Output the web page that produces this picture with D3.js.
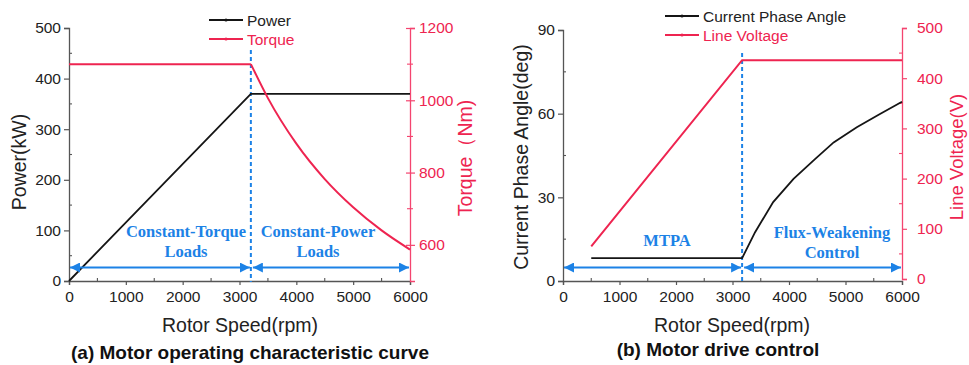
<!DOCTYPE html>
<html>
<head>
<meta charset="utf-8">
<script src="https://cdn.jsdelivr.net/npm/d3@7"></script>
<style>
  html, body { margin: 0; padding: 0; background: #fff; }
  svg { display: block; font-family: "Liberation Sans", Arial, sans-serif; }
</style>
</head>
<body>
<svg id="chart" width="969" height="365"></svg>
<script>
// ---- Panel (a): motor operating characteristic ----
const speedA   = [0, 3200, 6000];
const powerA   = [0, 370, 370];                       // kW
const torqueSpd = [0, 3200, 3500, 4000, 4500, 5000, 5500, 6000];
const torqueA  = [1100, 1100, 1006, 880, 782, 704, 640, 587]; // Nm
const baseSpeedA = 3200;

// ---- Panel (b): motor drive control ----
const angleSpd = [500, 3170, 3400, 3720, 4080, 4460, 4790, 5200, 5610, 6000];
const angleB   = [8.2, 8.2, 17.5, 28.3, 36.6, 43.7, 49.7, 55.1, 59.9, 64.3]; // deg
const voltSpd  = [500, 3170, 6000];
const voltB    = [65, 436, 436];                       // V
const baseSpeedB = 3170;

// tick labels
const speedTicks  = [0, 1000, 2000, 3000, 4000, 5000, 6000];
const powerTicks  = [0, 100, 200, 300, 400, 500];
const torqueTicks = [600, 800, 1000, 1200];
const angleTicks  = [0, 30, 60, 90];
const voltTicks   = [0, 100, 200, 300, 400, 500];

const BLACK = "#151515", RED = "#ee2450", PINK = "#f4446f", BLUE = "#1c82e6", AX = "#555";
const SANS = "'Liberation Sans', Arial, sans-serif";
const SERIF = "'Liberation Serif', 'Times New Roman', serif";
const TITLE = 19.5, CAPTION = 19, TICK = 15.5;
const fmt = d3.format("d");

const svg = d3.select("#chart");

function drawAxis(g, axis, color, labelColor) {
  g.call(axis.tickFormat(fmt));
  g.attr("font-family", SANS);
  g.select(".domain").attr("stroke", color).attr("stroke-width", 1.3);
  g.selectAll(".tick line").attr("stroke", color).attr("stroke-width", 1.2);
  g.selectAll(".tick text").attr("fill", labelColor).attr("font-size", TICK);
}
function minorTicks(g, scale, values, orient, color, len, both) {
  values.forEach(v => {
    const p = scale(v);
    const l = g.append("line").attr("stroke", color).attr("stroke-width", 1.1);
    if (orient === "left") l.attr("x1", 0).attr("x2", len).attr("y1", p).attr("y2", p);
    else if (orient === "right") l.attr("x1", both ? len : 0).attr("x2", -len).attr("y1", p).attr("y2", p);
    else l.attr("y1", 0).attr("y2", -len).attr("x1", p).attr("x2", p);
  });
}
svg.append("defs").append("marker")
  .attr("id", "arr").attr("viewBox", "0 0 10 10").attr("refX", 10).attr("refY", 5)
  .attr("markerWidth", 10).attr("markerHeight", 10).attr("markerUnits", "userSpaceOnUse")
  .attr("orient", "auto-start-reverse")
  .append("path").attr("d", "M0,0 L10,5 L0,10 z").attr("fill", BLUE);

function hArrow(x1, x2, y) {
  svg.append("line").attr("x1", x1).attr("x2", x2).attr("y1", y).attr("y2", y)
    .attr("stroke", BLUE).attr("stroke-width", 2)
    .attr("marker-start", "url(#arr)").attr("marker-end", "url(#arr)");
}
function blueText(lines, x, y0) {
  lines.forEach((t, i) => {
    svg.append("text").attr("x", x).attr("y", y0 + i * 20).attr("text-anchor", "middle")
      .attr("fill", BLUE).style("font-family", SERIF)
      .attr("font-weight", "bold").attr("font-size", 16.5).text(t);
  });
}
function legend(x, y, items) {
  items.forEach((it, i) => {
    const yy = y + i * 19;
    svg.append("line").attr("x1", x).attr("x2", x + 34).attr("y1", yy).attr("y2", yy)
      .attr("stroke", it.color).attr("stroke-width", 2);
    svg.append("circle").attr("cx", x + 17).attr("cy", yy).attr("r", 1.6).attr("fill", it.color);
    svg.append("text").attr("x", x + 38).attr("y", yy + 5.5).attr("fill", it.textColor)
      .attr("font-size", 15.5).text(it.label);
  });
}

// ================= Panel (a) =================
{
  const L = 69, R = 410, T = 28, B = 281;
  const x = d3.scaleLinear().domain([0, 6000]).range([L, R]);
  const yP = d3.scaleLinear().domain([0, 500]).range([B, T]);
  const yT = d3.scaleLinear().domain([500, 1200]).range([B, T]);

  const gx = svg.append("g").attr("transform", `translate(0,${B})`);
  drawAxis(gx, d3.axisBottom(x).tickValues(speedTicks).tickSize(4).tickPadding(6), AX, "#222");
  minorTicks(gx, x, [500, 1500, 2500, 3500, 4500, 5500], "bottom", AX, 3);

  const gy = svg.append("g").attr("transform", `translate(${L},0)`);
  drawAxis(gy, d3.axisLeft(yP).tickValues(powerTicks).tickSize(5).tickPadding(3), AX, "#222");
  minorTicks(gy, yP, [50, 150, 250, 350, 450], "left", AX, 3);

  const gr = svg.append("g").attr("transform", `translate(${R},0)`);
  drawAxis(gr, d3.axisRight(yT).tickValues(torqueTicks).tickSize(5).tickPadding(4), PINK, RED);
  gr.selectAll(".tick line").attr("x1", -4);
  minorTicks(gr, yT, [700, 900, 1100], "right", PINK, 3, true);

  // base-speed divider
  svg.append("line").attr("x1", x(baseSpeedA)).attr("x2", x(baseSpeedA))
    .attr("y1", 50).attr("y2", B + 1)
    .attr("stroke", BLUE).attr("stroke-width", 2).attr("stroke-dasharray", "4,3");

  const lineP = d3.line().x((d, i) => x(speedA[i])).y(d => yP(d));
  svg.append("path").attr("d", lineP(powerA)).attr("fill", "none")
    .attr("stroke", BLACK).attr("stroke-width", 1.8);

  // constant-torque segment (straight) and constant-power segment (smooth)
  const kA = torqueSpd.indexOf(baseSpeedA);
  const flat = d3.line().x(d => x(d[0])).y(d => yT(d[1]));
  const smooth = d3.line().x(d => x(d[0])).y(d => yT(d[1])).curve(d3.curveMonotoneX);
  const tPts = torqueSpd.map((s, i) => [s, torqueA[i]]);
  svg.append("path").attr("d", flat(tPts.slice(0, kA + 1))).attr("fill", "none")
    .attr("stroke", RED).attr("stroke-width", 2);
  svg.append("path").attr("d", smooth(tPts.slice(kA))).attr("fill", "none")
    .attr("stroke", RED).attr("stroke-width", 2);

  hArrow(x(0) + 1, x(baseSpeedA) - 1, 267.5);
  hArrow(x(baseSpeedA) + 2, x(6000) - 1, 267.5);
  blueText(["Constant-Torque", "Loads"], 186, 237);
  blueText(["Constant-Power", "Loads"], 318, 237);

  legend(209, 20, [
    { label: "Power", color: BLACK, textColor: "#222" },
    { label: "Torque", color: RED, textColor: RED }
  ]);

  svg.append("text").attr("transform", "translate(26,162) rotate(-90)")
    .attr("text-anchor", "middle").attr("font-size", TITLE).attr("fill", "#222").text("Power(kW)");
  svg.append("text").attr("transform", "translate(472,158) rotate(-90)")
    .attr("text-anchor", "middle").attr("font-size", TITLE).attr("fill", RED).text("Torque（Nm)");
  svg.append("text").attr("x", 240).attr("y", 332).attr("text-anchor", "middle")
    .attr("font-size", TITLE).attr("fill", "#222").text("Rotor Speed(rpm)");
  svg.append("text").attr("x", 250).attr("y", 359).attr("text-anchor", "middle")
    .attr("font-size", CAPTION).attr("font-weight", "bold").attr("fill", "#111")
    .text("(a) Motor operating characteristic curve");
}

// ================= Panel (b) =================
{
  const L = 563, R = 902, T = 30, B = 281;
  const x = d3.scaleLinear().domain([0, 6000]).range([L, R]);
  const yA = d3.scaleLinear().domain([0, 90]).range([B, T]);
  const yV = d3.scaleLinear().domain([0, 500]).range([B - 2, T - 2]);

  const gx = svg.append("g").attr("transform", `translate(0,${B})`);
  drawAxis(gx, d3.axisBottom(x).tickValues(speedTicks).tickSize(4).tickPadding(6), AX, "#222");
  minorTicks(gx, x, [500, 1500, 2500, 3500, 4500, 5500], "bottom", AX, 3);

  const gy = svg.append("g").attr("transform", `translate(${L},0)`);
  drawAxis(gy, d3.axisLeft(yA).tickValues(angleTicks).tickSize(5).tickPadding(3), AX, "#222");
  minorTicks(gy, yA, [15, 45, 75], "left", AX, 3);

  const gr = svg.append("g").attr("transform", `translate(${R},0)`);
  drawAxis(gr, d3.axisRight(yV).tickValues(voltTicks).tickSize(5).tickPadding(10), PINK, RED);
  minorTicks(gr, yV, [50, 150, 250, 350, 450], "right", PINK, 3);

  svg.append("line").attr("x1", x(baseSpeedB)).attr("x2", x(baseSpeedB))
    .attr("y1", 53).attr("y2", B + 2)
    .attr("stroke", BLUE).attr("stroke-width", 2).attr("stroke-dasharray", "4,3");

  const lineV = d3.line().x((d, i) => x(voltSpd[i])).y(d => yV(d));
  svg.append("path").attr("d", lineV(voltB)).attr("fill", "none")
    .attr("stroke", RED).attr("stroke-width", 2);
  const lineA = d3.line().x((d, i) => x(angleSpd[i])).y(d => yA(d));
  svg.append("path").attr("d", lineA(angleB)).attr("fill", "none")
    .attr("stroke", BLACK).attr("stroke-width", 1.8);

  hArrow(x(0) + 1, x(baseSpeedB) - 1, 267.5);
  hArrow(x(baseSpeedB) + 2, x(6000) - 1, 267.5);
  blueText(["MTPA"], 667, 246);
  blueText(["Flux-Weakening", "Control"], 832, 238);

  legend(665, 16, [
    { label: "Current Phase Angle", color: BLACK, textColor: "#222" },
    { label: "Line Voltage", color: RED, textColor: RED }
  ]);

  svg.append("text").attr("transform", "translate(528,157) rotate(-90)")
    .attr("text-anchor", "middle").attr("font-size", TITLE).attr("fill", "#222")
    .text("Current Phase Angle(deg)");
  svg.append("text").attr("transform", "translate(963,157) rotate(-90)")
    .attr("text-anchor", "middle").attr("font-size", 18.5).attr("fill", RED)
    .text("Line Voltage(V)");
  svg.append("text").attr("x", 732).attr("y", 332).attr("text-anchor", "middle")
    .attr("font-size", TITLE).attr("fill", "#222").text("Rotor Speed(rpm)");
  svg.append("text").attr("x", 718).attr("y", 356).attr("text-anchor", "middle")
    .attr("font-size", CAPTION).attr("font-weight", "bold").attr("fill", "#111")
    .text("(b) Motor drive control");
}
</script>
</body>
</html>
